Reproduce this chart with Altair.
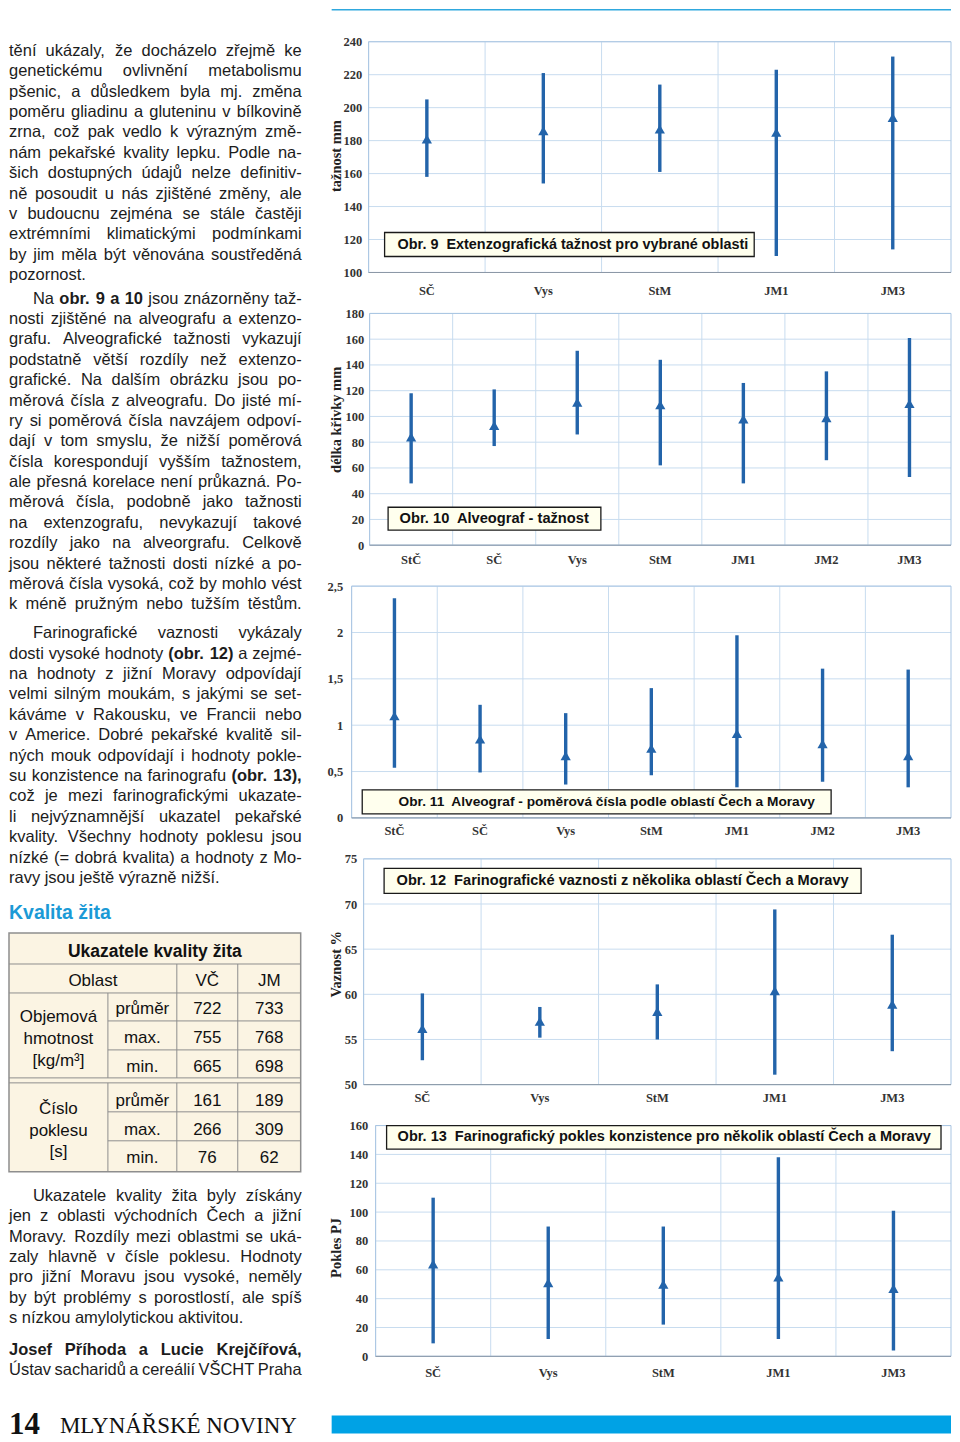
import unicodedata
import altair as alt
import pandas as pd

# ---------------- chart data ----------------
regions5 = ["SČ", "Vys", "StM", "JM1", "JM3"]
regions7 = ["StČ", "SČ", "Vys", "StM", "JM1", "JM2", "JM3"]

ext_min = [158, 154, 161, 110, 114]
ext_max = [205, 221, 214, 223, 231]
ext_mean = [181, 186, 187, 185, 194]
ext_ticks = [100, 120, 140, 160, 180, 200, 220, 240]

alv_min = [48, 77, 86, 62, 48, 66, 53]
alv_max = [118, 121, 151, 144, 126, 135, 161]
alv_mean = [84, 93, 111, 109, 98, 99, 110]
alv_ticks = [0, 20, 40, 60, 80, 100, 120, 140, 160, 180]

pl_min = [0.54, 0.49, 0.36, 0.46, 0.33, 0.39, 0.33]
pl_max = [2.37, 1.22, 1.13, 1.40, 1.97, 1.61, 1.60]
pl_mean = [1.10, 0.85, 0.67, 0.75, 0.91, 0.80, 0.67]
pl_ticks = [0, 0.5, 1, 1.5, 2, 2.5]

vaz_min = [52.7, 55.2, 55.0, 51.1, 53.7]
vaz_max = [60.1, 58.6, 61.1, 69.4, 66.6]
vaz_mean = [56.2, 57.0, 58.1, 60.4, 58.9]
vaz_ticks = [50, 55, 60, 65, 70, 75]

pok_min = [9, 12, 22, 12, 4]
pok_max = [110, 90, 90, 138, 101]
pok_mean = [64, 51, 50, 55, 47]
pok_ticks = [0, 20, 40, 60, 80, 100, 120, 140, 160]

captions = [
    "Obr. 9\u00a0 Extenzografická tažnost pro vybrané oblasti",
    "Obr. 10\u00a0 Alveograf - tažnost",
    "Obr. 11\u00a0 Alveograf - poměrová čísla podle oblastí Čech a Moravy",
    "Obr. 12\u00a0 Farinografické vaznosti z několika oblastí Čech a Moravy",
    "Obr. 13\u00a0 Farinografický pokles konzistence pro několik oblastí Čech a Moravy",
]
y_titles = ["tažnost mm", "délka křivky mm", "", "Vaznost %", "Pokles PJ"]

# ---------------- table data ----------------
tab_title = "Ukazatele kvality žita"
tab_head = ["Oblast", "VČ", "JM"]
tab_stats = ["průměr", "max.", "min."]
objem_label = ["Objemová", "hmotnost", "[kg/m³]"]
objem_vc = [722, 755, 665]
objem_jm = [733, 768, 698]
pokles_label = ["Číslo", "poklesu", "[s]"]
pokles_vc = [161, 266, 76]
pokles_jm = [189, 309, 62]

# ---------------- body text ----------------
para1 = [
    "tění ukázaly, že docházelo zřejmě ke",
    "genetickému ovlivnění metabolismu",
    "pšenic, a důsledkem byla mj. změna",
    "poměru gliadinu a gluteninu v bílkovině",
    "zrna, což pak vedlo k výrazným změ-",
    "nám pekařské kvality lepku. Podle na-",
    "šich dostupných údajů nelze definitiv-",
    "ně posoudit u nás zjištěné změny, ale",
    "v budoucnu zejména se stále častěji",
    "extrémními klimatickými podmínkami",
    "by jim měla být věnována soustředěná",
    "pozornost.",
]
para2 = [
    "Na **obr. 9 a 10** jsou znázorněny taž-",
    "nosti zjištěné na alveografu a extenzo-",
    "grafu. Alveografické tažnosti vykazují",
    "podstatně větší rozdíly než extenzo-",
    "grafické. Na dalším obrázku jsou po-",
    "měrová čísla z alveografu. Do jisté mí-",
    "ry si poměrová čísla navzájem odpoví-",
    "dají v tom smyslu, že nižší poměrová",
    "čísla korespondují vyšším tažnostem,",
    "ale přesná korelace není průkazná. Po-",
    "měrová čísla, podobně jako tažnosti",
    "na extenzografu, nevykazují takové",
    "rozdíly jako na alveorgrafu. Celkově",
    "jsou některé tažnosti dosti nízké a po-",
    "měrová čísla vysoká, což by mohlo vést",
    "k méně pružným nebo tužším těstům.",
]
para3 = [
    "Farinografické vaznosti vykázaly",
    "dosti vysoké hodnoty **(obr. 12)** a zejmé-",
    "na hodnoty z jižní Moravy odpovídají",
    "velmi silným moukám, s jakými se set-",
    "káváme v Rakousku, ve Francii nebo",
    "v Americe. Dobré pekařské kvalitě sil-",
    "ných mouk odpovídají i hodnoty pokle-",
    "su konzistence na farinografu **(obr. 13),**",
    "což je mezi farinografickými ukazate-",
    "li nejvýznamnější ukazatel pekařské",
    "kvality. Všechny hodnoty poklesu jsou",
    "nízké (= dobrá kvalita) a hodnoty z Mo-",
    "ravy jsou ještě výrazně nižší.",
]
para4 = [
    "Ukazatele kvality žita byly získány",
    "jen z oblasti východních Čech a jižní",
    "Moravy. Rozdíly mezi oblastmi se uká-",
    "zaly hlavně v čísle poklesu. Hodnoty",
    "pro jižní Moravu jsou vysoké, neměly",
    "by být problémy s porostlostí, ale spíš",
    "s nízkou amylolytickou aktivitou.",
]
authors = [
    "**Josef Příhoda a Lucie Krejčířová,**",
    "Ústav sacharidů a cereálií VŠCHT Praha",
]
heading = "Kvalita žita"
footer_num = "14"
footer_name = "MLYNÁŘSKÉ NOVINY"

# ---------------- styles / layout ----------------
SERIF = "Liberation Serif"
SANS = "Liberation Sans"
BLUE = "#2364AA"
GRID = "#C8DCEF"
FRAME = "#A9C5E2"
AXIS_LINE = "#8C98A6"
CREAM = "#FFFFEE"
CYAN = "#2FA8DE"
BAR_CYAN = "#00A2E5"
INK = "#1c1c1c"
HEAD_BLUE = "#1B9AD6"
TABLE_BG = "#FBF4E3"
TABLE_LINE = "#8E8E8E"

BASE_W = 600
OY = 40.75  # page y of top of the plot column (layout)


def py(page_y):
    return page_y - OY


# Arial / Liberation Sans advance widths (1/1000 em)
_lc = "abcdefghijklmnopqrstuvwxyz"
_uc = "ABCDEFGHIJKLMNOPQRSTUVWXYZ"
REG_L = dict(zip(_lc, [556, 556, 500, 556, 556, 278, 556, 556, 222, 222, 500, 222, 833,
                       556, 556, 556, 556, 333, 500, 278, 556, 500, 722, 500, 500, 500]))
REG_U = dict(zip(_uc, [667, 667, 722, 722, 667, 611, 778, 722, 278, 500, 667, 556, 833,
                       722, 778, 667, 778, 722, 667, 611, 722, 667, 944, 667, 667, 611]))
BLD_L = dict(zip(_lc, [556, 611, 556, 611, 556, 333, 611, 611, 278, 278, 556, 278, 889,
                       611, 611, 611, 611, 389, 556, 333, 611, 556, 778, 556, 556, 500]))
BLD_U = dict(zip(_uc, [722, 722, 722, 722, 667, 611, 778, 722, 278, 556, 722, 611, 833,
                       722, 778, 667, 778, 722, 667, 611, 722, 667, 944, 667, 667, 611]))
PUN = {" ": 278, "\u00a0": 278, ",": 278, ".": 278, "-": 333, "(": 333, ")": 333,
       "=": 584, ":": 278, ";": 278, "[": 278, "]": 278, "%": 889, "/": 278}


def cw(ch, bold):
    if ch in "íÍ":
        return 278
    if ch.isdigit():
        return 556
    if ch in PUN:
        return PUN[ch]
    base = unicodedata.normalize("NFD", ch)[0]
    if base.islower():
        return (BLD_L if bold else REG_L).get(base, 556)
    if base.isupper():
        return (BLD_U if bold else REG_U).get(base, 667)
    return 556


def units(s, bold):
    return sum(cw(c, bold) for c in s)


def words_of(line):
    parts = line.split("**")
    out = []
    for i, p in enumerate(parts):
        for w in p.split(" "):
            if w:
                out.append((w, i % 2 == 1))
    return out


TEXT_L, TEXT_R, INDENT = 0, 293, 24
PITCH = 20.4
blocks = [
    (para1, 50, False, False),
    (para2, 298, True, True),
    (para3, 633, True, False),
    (para4, 1196, True, False),
    (authors, 1350, False, True),
]

# font size so that every justified line fits
fs_cands = [17.0]
for lines, y0, ind, just_last in blocks:
    for i, ln in enumerate(lines):
        just = (i < len(lines) - 1) or just_last
        if not just:
            continue
        ws = words_of(ln)
        x0 = TEXT_L + (INDENT if (ind and i == 0) else 0)
        u = sum(units(w, b) for w, b in ws) + (len(ws) - 1) * 278 * 0.75
        fs_cands.append((TEXT_R - x0) * 1000 / u)
FS = min(fs_cands)

rows = []
for lines, y0, ind, just_last in blocks:
    for i, ln in enumerate(lines):
        just = (i < len(lines) - 1) or just_last
        ws = words_of(ln)
        x0 = TEXT_L + (INDENT if (ind and i == 0) else 0)
        widths = [units(w, b) * FS / 1000 for w, b in ws]
        if just and len(ws) > 1:
            gap = (TEXT_R - x0 - sum(widths)) / (len(ws) - 1)
        else:
            gap = 278 * FS / 1000
        x = x0
        for (w, b), wd in zip(ws, widths):
            rows.append({"x": x, "y": py(y0 + i * PITCH), "text": w, "bold": b})
            x += wd + gap
words = pd.DataFrame(rows)

one = pd.DataFrame({"k": [0]})


def text_layer(df, size, bold=False, align="left", font=SANS, color=INK):
    kw = dict(align=align, baseline="middle", font=font, fontSize=size, color=color)
    if bold:
        kw["fontWeight"] = "bold"
    return alt.Chart(df).mark_text(**kw).encode(
        x=alt.X("x:Q", scale=None, axis=None),
        y=alt.Y("y:Q", scale=None, axis=None),
        text="text:N",
    )


# ---------------- table ----------------
TX = [0, 99, 168, 229, 292]
t_top, t_title, t_head, r1, r2, g1, g2, r4, r5, t_bot = [
    py(v) for v in [933, 964, 993, 1021, 1050, 1078, 1083, 1112, 1141, 1172]]
cx = [(TX[i] + TX[i + 1]) / 2 for i in range(4)]

tlines = [
    (TX[0], TX[4], t_title, t_title), (TX[0], TX[4], t_head, t_head),
    (TX[0], TX[4], g1, g1), (TX[0], TX[4], g2, g2),
    (TX[1], TX[4], r1, r1), (TX[1], TX[4], r2, r2),
    (TX[1], TX[4], r4, r4), (TX[1], TX[4], r5, r5),
    (TX[1], TX[1], t_head, g1), (TX[1], TX[1], g2, t_bot),
    (TX[2], TX[2], t_title, g1), (TX[2], TX[2], g2, t_bot),
    (TX[3], TX[3], t_title, g1), (TX[3], TX[3], g2, t_bot),
]
tlines_df = pd.DataFrame(tlines, columns=["x", "x2", "y", "y2"])

cells = [{"x": (TX[0] + TX[2]) / 2, "y": py(981), "text": tab_head[0]},
         {"x": cx[2], "y": py(981), "text": tab_head[1]},
         {"x": cx[3], "y": py(981), "text": tab_head[2]}]
for ys_stat, ys_lab, labs, vc, jm in [
        ([1009, 1038, 1067], [1017, 1039, 1061], objem_label, objem_vc, objem_jm),
        ([1101, 1130, 1158], [1109, 1131, 1152], pokles_label, pokles_vc, pokles_jm)]:
    for k in range(3):
        cells.append({"x": cx[0], "y": py(ys_lab[k]), "text": labs[k]})
        cells.append({"x": cx[1], "y": py(ys_stat[k]), "text": tab_stats[k]})
        cells.append({"x": cx[2], "y": py(ys_stat[k]), "text": str(vc[k])})
        cells.append({"x": cx[3], "y": py(ys_stat[k]), "text": str(jm[k])})
cells_df = pd.DataFrame(cells)
title_df = pd.DataFrame([{"x": (TX[0] + TX[4]) / 2, "y": py(952), "text": tab_title}])

left_layers = [
    alt.Chart(one).mark_rule(color="white", strokeWidth=1.5).encode(
        x=alt.value(0), x2=alt.value(10), y=alt.value(-32)),
    text_layer(words[~words.bold], FS),
    text_layer(words[words.bold], FS, bold=True),
    alt.Chart(one).mark_text(align="left", baseline="middle", font=SANS, fontSize=19.5,
                             fontWeight="bold", color=HEAD_BLUE).encode(
        x=alt.value(0), y=alt.value(py(913)), text=alt.value(heading)),
    alt.Chart(one).mark_rect(fill=TABLE_BG, stroke=TABLE_LINE, strokeWidth=1.5).encode(
        x=alt.value(TX[0]), x2=alt.value(TX[4]), y=alt.value(t_top), y2=alt.value(t_bot)),
    alt.Chart(tlines_df).mark_rule(color=TABLE_LINE, strokeWidth=1).encode(
        x=alt.X("x:Q", scale=None, axis=None), x2="x2:Q",
        y=alt.Y("y:Q", scale=None, axis=None), y2="y2:Q"),
    text_layer(cells_df, 17, align="center", color="#111111"),
    text_layer(title_df, 17.5, bold=True, align="center", color="#111111"),
    alt.Chart(one).mark_text(align="left", baseline="alphabetic", font=SERIF, fontSize=31,
                             fontWeight="bold", color="#111111").encode(
        x=alt.value(0), y=alt.value(py(1435)), text=alt.value(footer_num)),
    alt.Chart(one).mark_text(align="left", baseline="alphabetic", font=SERIF, fontSize=23,
                             color="#111111").encode(
        x=alt.value(51), y=alt.value(py(1434)), text=alt.value(footer_name)),
]
left_col = alt.layer(*left_layers).properties(width=310, height=1380)


# ---------------- interval charts ----------------
def make_chart(cats, lo, hi, mean, domain, ticks, h, off, ytitle, tdx, ty, xpad, ypad,
               box, caption, cap_x0, cap_w, comma=False, extra=()):
    df = pd.DataFrame({"cat": cats, "lo": lo, "hi": hi, "mean": mean})
    xs = alt.Scale(domain=cats, range=[off, BASE_W], paddingInner=0, paddingOuter=0)
    ys = alt.Scale(domain=domain, nice=False, zero=False)
    xaxis = alt.Axis(title=None, labelFont=SERIF, labelFontWeight="bold", labelFontSize=12.5,
                     labelColor="#333333", labelAngle=0, ticks=False, domain=False,
                     grid=False, labelPadding=xpad, labelOverlap=False)
    ykw = dict(values=ticks, labelFont=SERIF, labelFontWeight="bold", labelFontSize=12.5,
               labelColor="#333333", ticks=False, domain=False, grid=False,
               labelPadding=ypad, offset=-off, labelFlush=False, labelOverlap=False)
    if ytitle:
        ykw.update(title=ytitle, titleFont=SERIF, titleFontWeight="bold", titleFontSize=14.5,
                   titleColor="#222222", titleAngle=270, titleX=tdx, titleY=ty,
                   titleBaseline="middle", titleAlign="center")
    else:
        ykw.update(title=None)
    if comma:
        ykw.update(format="~g", labelExpr="replace(datum.label, '.', ',')")
    yaxis = alt.Axis(**ykw)

    hgrid = alt.Chart(pd.DataFrame({"v": ticks})).mark_rule(color=GRID, strokeWidth=1).encode(
        y=alt.Y("v:Q", scale=ys, axis=yaxis), x=alt.value(off), x2=alt.value(BASE_W))
    vgrid = alt.Chart(pd.DataFrame({"cat": cats})).mark_rule(color=GRID, strokeWidth=1).encode(
        x=alt.X("cat:N", scale=xs, axis=xaxis, bandPosition=0),
        y=alt.value(0), y2=alt.value(h))
    frame = alt.Chart(one).mark_rect(fillOpacity=0, stroke=FRAME, strokeWidth=1).encode(
        x=alt.value(off), x2=alt.value(BASE_W), y=alt.value(0), y2=alt.value(h))
    bottom = alt.Chart(one).mark_rule(color=AXIS_LINE, strokeWidth=1).encode(
        x=alt.value(off), x2=alt.value(BASE_W), y=alt.value(h))
    bars = alt.Chart(df).mark_rule(color=BLUE, strokeWidth=3.4).encode(
        x=alt.X("cat:N", scale=xs, axis=xaxis),
        y=alt.Y("lo:Q", scale=ys, axis=yaxis), y2="hi:Q")
    pts = alt.Chart(df).mark_point(shape="triangle-up", filled=True, color=BLUE,
                                   size=105, opacity=1).encode(
        x=alt.X("cat:N", scale=xs, axis=xaxis),
        y=alt.Y("mean:Q", scale=ys, axis=yaxis))
    boxr = alt.Chart(one).mark_rect(fill=CREAM, stroke="#1a1a1a", strokeWidth=1.3).encode(
        x=alt.value(box[0]), x2=alt.value(box[1]), y=alt.value(box[2]), y2=alt.value(box[3]))
    cap_fs = cap_w * 1000 / units(caption, True)
    cap = alt.Chart(one).mark_text(align="left", baseline="middle", font=SANS,
                                   fontSize=cap_fs, fontWeight="bold", color="#111111").encode(
        x=alt.value(cap_x0), y=alt.value((box[2] + box[3]) / 2), text=alt.value(caption))
    return alt.layer(hgrid, vgrid, frame, bottom, bars, pts, boxr, cap, *extra).properties(
        width=BASE_W, height=h)


header_line = alt.Chart(one).mark_rule(color=CYAN, strokeWidth=1.5).encode(
    x=alt.value(-20), x2=alt.value(BASE_W), y=alt.value(-32))
guide = alt.Chart(one).mark_rule(color="white", strokeWidth=1.5).encode(
    x=alt.value(-32), x2=alt.value(-21), y=alt.value(-32))
c5_top = OY + 231 + 41 + 232 + 41 + 232 + 41 + 226 + 41
footer_bar = alt.Chart(one).mark_rect(color=BAR_CYAN).encode(
    x=alt.value(-20), x2=alt.value(BASE_W),
    y=alt.value(1416 - c5_top), y2=alt.value(1434 - c5_top))

c1 = make_chart(regions5, ext_min, ext_max, ext_mean, [100, 240], ext_ticks, 231, 17,
                y_titles[0], -32.5, 114, 12, 7, (33, 403, 191, 215), captions[0], 46, 352,
                extra=(header_line, guide))
c2 = make_chart(regions7, alv_min, alv_max, alv_mean, [0, 180], alv_ticks, 232, 18,
                y_titles[1], -33, 106, 8, 6, (36.5, 249.5, 194, 217), captions[1], 48, 191)
c3 = make_chart(regions7, pl_min, pl_max, pl_mean, [0, 2.5], pl_ticks, 232, 0,
                y_titles[2], 0, 0, 7, 9, (10.6, 480, 204, 228), captions[2], 47, 419,
                comma=True)
c4 = make_chart(regions5, vaz_min, vaz_max, vaz_mean, [50, 75], vaz_ticks, 226, 12,
                y_titles[3], -27.5, 105, 7, 7, (32.5, 510, 9.5, 34.5), captions[3], 45, 454)
c5 = make_chart(regions5, pok_min, pok_max, pok_mean, [0, 160], pok_ticks, 231, 24,
                y_titles[4], -39.5, 122, 10, 8, (35, 590, 0, 23.5), captions[4], 46, 535,
                extra=(footer_bar,))

right_col = alt.vconcat(c1, c2, c3, c4, c5, spacing=41, bounds="flush").resolve_scale(
    x="independent", y="independent")

chart = alt.hconcat(left_col, right_col, spacing=0).resolve_scale(
    x="independent", y="independent").properties(padding=0).configure_view(strokeWidth=0)

chart.save("out.html", embed_options={"renderer": "svg", "actions": False})
